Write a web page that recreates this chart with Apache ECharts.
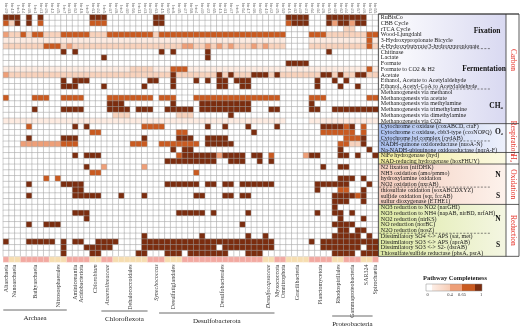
<!DOCTYPE html>
<html>
<head>
<meta charset="utf-8">
<script src="https://cdn.jsdelivr.net/npm/echarts@6/dist/echarts.min.js"></script>
<style>
  html, body { margin: 0; padding: 0; background: #fff; }
  #main { width: 520px; height: 328px; }
</style>
</head>
<body>
<div id="main"></div>
<script>
// genome bins along the top
var bins = ['bin29','bin19','bin3','bin14','bin38','bin1','bin41','bin26','bin12','bin45','bin7','bin33','bin52','bin18','bin9','bin61','bin24','bin5','bin37','bin48','bin2','bin30','bin56','bin11','bin43','bin20','bin63','bin15','bin50','bin8','bin35','bin27','bin58','bin4','bin40','bin22','bin65','bin13','bin31','bin47','bin6','bin54','bin17','bin36','bin60','bin10','bin42','bin25','bin59','bin16','bin32','bin49','bin21','bin64','bin34','bin28','bin53','bin39','bin62','bin44','bin23','bin57','bin46','bin51','bin55'];

var pathways = [
  'RuBisCo', 'CBB Cycle', 'rTCA Cycle', 'Wood-Ljungdahl', '3-Hydroxypropionate Bicycle', '4-Hydroxybutyrate/3-hydroxypropionate',
  'Chitinase', 'Lactate', 'Formate', 'Formate to CO2 & H2', 'Acetate', 'Ethanol, Acetate to Acetylaldehyde', 'Ethanol, Acetyl-CoA to Acetylaldehyde',
  'Methanogenesis via methanol', 'Methanogenesis via acetate', 'Methanogenesis via methylamine', 'Methanogenesis via trimethylamine', 'Methanogenesis via dimethylamine', 'Methanogenesis via CO2',
  'Cytochrome c oxidase (coxABCD, ctaF)', 'Cytochrome c oxidase, cbb3-type (ccoNOPQ)', 'Cytochrome bd complex (cydAB)', 'NADH-quinone oxidoreductase (nuoA-N)', 'Na-NADH-ubiquinone oxidoreductase (nqrA-F)',
  'NiFe hydrogenase (hyd)', 'NAD-reducing hydrogenase (hoxFHUY)',
  'N2 fixation (nifDHK)', 'NH3 oxidation (amo/pmmo)', 'hydroxylamine oxidation', 'NO2 oxidation (nxrAB)',
  'thiosulfate oxidation (soxABCDXYZ)', 'sulfide oxidation (sqr, fccAB)', 'sulfur dioxygenase (ETHE1)',
  'NO3 reduction to NO2 (narGHI)', 'NO3 reduction to NH4 (napAB, nirBD, nrfAH)', 'NO2 reduction (nirKS)', 'NO reduction (norBC)', 'N2O reduction (nosZ)',
  'Dissimilatory SO4 <-> APS (sat, met)', 'Dissimilatory SO3 <-> APS (aprAB)', 'Dissimilatory SO3 <-> S2- (dsrAB)', 'Thiosulfate/sulfide reductase (phsA, psrA)'
];

// completeness per pathway, one character per bin: . = 0, 1..5 = rising completeness
var fixationRows = [
  '555.5 .5... ..... 555.. ..... .55.. ..... ..... ..... ....5 555.. .5555 555..',
  '425.5 .4... ..... 444.. ..... .55.. ..... ..... ..... ....4 555.. .5355 355..',
  '..... ..... ..... ..... ..... ..... ..... ..... ..... ..... ..... ....2 2....',
  '32242 44222 44444 22244 44444 42444 44444 44444 44444 4444. ...44 42222 22244',
  '11111 11111 11111 11111 11111 11111 11111 11111 11111 1111. ...11 11111 11141',
  '22222 22444 23222 22222 22222 22222 23322 32323 22232 3222. ...22 22222 22242'
];
var fermentationRows = [
  '..... ..... 5.5.. ..... ..... ..5.5 ..... 5.... ..... ..... ..... .5... .....',
  '..... ..... ..... ..5.. ..... ..... ..... 5.... ..... ..... ..... ..... .....',
  '..... ..... ..... ..... ..... ..... ..... ..... ..... ....5 555.. ..... .....',
  '11111 11111 11111 11111 11222 21114 44111 11111 11111 11111 11111 11111 11141',
  '32222 22222 22222 22222 22222 22225 22222 22525 22255 52522 22222 55252 25522',
  '..... ..... 5.555 ..... ..... 55..5 ...5. 5.55. 555.. ..... ....5 ..5.5 .....',
  '..... ..... 555.. ..5.. ....5 ....5 ..... ..55. .55.. ..... ....5 ...5. .5...'
];
var ch4Rows = [
  '..... ..... ..... ..... ..... ..... ..... ..... ..... ..... ..... ..... .....',
  '4.... 444.. 4444. ...44 44444 4.444 ...44 44444 44444 444.. ...44 4.... ...44',
  '..... ..... ..... ...55 5.... ....5 ....5 55555 555.. ..... ...5. ..... .....',
  '..... 5.... 5555. ...55 55.55 5..55 555.5 55555 555.. .55.. ...55 ..555 55555',
  '..... ..... ..... ....2 22... ..... 222.. ....5 ..... ..... ..... ..... .....',
  '11111 11111 11111 11111 11111 11111 11111 11111 11111 1111. ...11 11111 11111'
];
var o2Rows = [
  '....4 ..... ..5.5 ..... ....4 444.. ..... 5..5. ..5.. ..5.. ..... 55554 5.4..',
  '..... ..... ..... 44... ..... ..... 44... ..... ...5. ..... ..... 44444 4.4..',
  '....5 ..... 555.. ..... ....5 ..... 555.. 5555. ..... ..... ..... ....4 445..',
  '...33 33333 444.. ..... ..444 ..444 4444. 55555 ..... ..... ..... ...44 225..',
  '..... ..... ..... ..... ..... ....5 .55.. ..... ..... ..... ..... ...5. ...5.'
];
var h2Rows = [
  '..... ..... ..5.5 55... ..... ..... 45555 55355 55.55 .4... ..355 ...55 .5..5',
  '..... ..... ..... ..... ..... ...55 55555 55..5 55..5 .5... ..... ..... .....'
];
var oxNRows = [
  '..... ..... ....5 ..3.. ....3 ..... ..... ..... ..... ..... ..... 5..55 .....',
  '..... ..... ..... 44... ..... ..... ...4. ..... ..... ..... ..... ..... .....',
  '..... ..4.4 ..... ..... ..... ..... ..... ..... ..... ..... ..... ...55 5.5..',
  '....5 ..... 5555. ..... ..... ...55 5555. 55.55 .5555 55... ....5 55555 ...5.'
];
var oxSRows = [
  '..... ..... ..55. ..... ..... ..... ..... ..... ..... ..... ....5 ...44 ..5..',
  '....5 ..... ..555 55... 5...5 ..... ...55 ...55 .55.. ..... ..... ..555 545..',
  '..... ..... ..... ..... ..... ..... ..... ..... ..... ..... ..... ..555 ..5..'
];
var redNRows = [
  '..... ..... ..... ..... ..... ..... ..... ..... ..... ..... ..... ..5.. .....',
  '..... ..... ..555 ..... ..... ..... 55555 .5... ..5.. ..... ....5 ..55. 5....',
  '..... ..... ....5 ..... ..... ..... ..... ..... ..... ..... ..... ...5. ..5..',
  '....5 ..555 ..... ..... ..... ..... ..... ..... .5... ..... ..... ..555 5....',
  '..... ..... ..... ..... ..... ..... ..... ..... ..... ..... ..... ...55 .55..'
];
var redSRows = [
  '..... ..... ..... ..... ....5 ..... ....5 ..... ..5.. 5.... ..... ..555 55.5.',
  '5...5 5555. 5.55. .5555 ....5 55555 55555 55555 55555 55... ...5. 55555 55555',
  '..... ..... 5...5 5555. ....5 55555 55555 55.55 55555 55... ..... 55555 55.55',
  '..... ..... 5.... 55... ...55 ...55 5.555 5555. ..555 ..... ..... ..555 5.555'
];
var levels = { '.': 0, '1': 0.2, '2': 0.35, '3': 0.55, '4': 0.8, '5': 1 };

// taxonomy of the bins (bottom)
var taxa = [
  { name: 'Altarchaeia', from: 0, to: 0 },
  { name: 'Nanoarchaeia', from: 1, to: 2 },
  { name: 'Bathyarchaeia', from: 3, to: 7 },
  { name: 'Nitrososphaerales', from: 8, to: 10 },
  { name: 'Aminicenantia\nAcidobacteriota', from: 11, to: 14 },
  { name: 'Chlorobium', from: 15, to: 16, italic: true },
  { name: 'Anaerolineaceae', from: 17, to: 18, italic: true },
  { name: 'Dehalococcoidales', from: 19, to: 24 },
  { name: 'Synechococcus', from: 25, to: 27, italic: true },
  { name: 'Desulfatiglandales', from: 28, to: 30 },
  { name: 'Desulfobacterales', from: 31, to: 44 },
  { name: 'Desulfocapsaceae', from: 45, to: 46, italic: true },
  { name: 'Myxococcota\nOmnitrophota', from: 47, to: 48 },
  { name: 'Gracilibacteria', from: 49, to: 52 },
  { name: 'Planctomycetota', from: 53, to: 56 },
  { name: 'Rhodospirillales', from: 57, to: 58 },
  { name: 'Gammaproteobacteria', from: 59, to: 61 },
  { name: 'SAR324', from: 62, to: 63 },
  { name: 'Spirochaetia', from: 64, to: 64 }
];
var clades = [
  { name: 'Archaea', from: 0, to: 10 },
  { name: 'Chloroflexota', from: 17, to: 24 },
  { name: 'Desulfobacterota', from: 27, to: 46 },
  { name: 'Proteobacteria', from: 57, to: 63 }
];

// pathway groups on the right
var sections = [
  { name: 'Carbon', from: 0, to: 18 },
  { name: 'Respiration', from: 19, to: 23 },
  { name: 'H\u2082', from: 24, to: 25 },
  { name: 'Oxidation', from: 26, to: 32 },
  { name: 'Reduction', from: 33, to: 41 }
];
var subgroups = [
  { name: 'Fixation', from: 0, to: 5 },
  { name: 'Fermentation', from: 6, to: 12 },
  { name: 'CH\u2084', from: 13, to: 18 },
  { name: 'O\u2082', from: 19, to: 21 },
  { name: '', from: 22, to: 23 },
  { name: 'N', from: 26, to: 29 },
  { name: 'S', from: 30, to: 32 },
  { name: 'N', from: 33, to: 37 },
  { name: 'S', from: 38, to: 41 }
];

var legendStops = ['0', '0.4', '0.65', '1'];

// ---------- layout ----------
var L = { left: 3.3, top: 14, cell: 5.77 };
var nC = bins.length, nR = pathways.length;
var gridW = L.cell * nC, gridH = L.cell * nR;
var panelX = L.left + gridW, panelR = 506, outerR = 519;
var sectionBg = {
  'Carbon': ['#ffffff', '#d9d9f1'],
  'Respiration': ['#a9bfef', '#eef1fb'],
  'H\u2082': ['#f2ec9c', '#fbf9e2'],
  'Oxidation': ['#f3cdbd', '#fdf2ec'],
  'Reduction': ['#dde9a4', '#f4f6e2']
};
var sectionLabelY = { 'Carbon': 60 };
var subLabelX = { 'Fixation': 487, 'Fermentation': 484, 'CH\u2084': 496, 'O\u2082': 499, 'N': 498, 'S': 498 };
var cladeLineY = { 'Archaea': 310, 'Chloroflexota': 311, 'Desulfobacterota': 313, 'Proteobacteria': 316 };

var rows = fixationRows.concat(fermentationRows, ch4Rows, o2Rows, h2Rows, oxNRows, oxSRows, redNRows, redSRows);
var heat = [];
rows.forEach(function (s, r) {
  s.replace(/ /g, '').split('').forEach(function (ch, c) {
    heat.push([c, r, levels[ch]]);
  });
});

var stripData = [];
taxa.forEach(function (t, i) {
  for (var c = t.from; c <= t.to; c++) stripData.push([c, 0, i % 2]);
});

function rowY(r) { return L.top + r * L.cell; }
function colX(c) { return L.left + c * L.cell; }

var g = [];
// panel backgrounds
sections.forEach(function (s) {
  var bg = sectionBg[s.name];
  g.push({
    type: 'rect', z: -10,
    shape: { x: panelX, y: rowY(s.from), width: panelR - panelX, height: (s.to - s.from + 1) * L.cell },
    style: { fill: new echarts.graphic.LinearGradient(0, 0, 1, 0, [{ offset: 0, color: bg[0] }, { offset: 1, color: bg[1] }]) }
  });
  // red category name
  var cy = sectionLabelY[s.name] || (rowY(s.from) + rowY(s.to + 1)) / 2;
  g.push({
    type: 'text', z: 5, x: (panelR + outerR) / 2, y: cy, rotation: -Math.PI / 2,
    style: { text: s.name, fill: '#e5332a', fontSize: 7.5, fontFamily: 'Liberation Serif', align: 'center', verticalAlign: 'middle' }
  });
  g.push({
    type: 'line', z: 5,
    shape: { x1: panelX, y1: rowY(s.from), x2: outerR, y2: rowY(s.from) },
    style: { stroke: '#333', lineWidth: 0.8 }
  });
});
g.push({ type: 'rect', z: 5, shape: { x: panelX, y: L.top, width: outerR - panelX, height: gridH }, style: { fill: 'none', stroke: '#333', lineWidth: 0.8 } });
g.push({ type: 'line', z: 5, shape: { x1: panelR, y1: L.top, x2: panelR, y2: L.top + gridH }, style: { stroke: '#333', lineWidth: 0.8 } });

// subgroup labels and dashed separators
subgroups.forEach(function (sg) {
  if (sg.name) {
    g.push({
      type: 'text', z: 5, x: subLabelX[sg.name], y: (rowY(sg.from) + rowY(sg.to + 1)) / 2,
      style: { text: sg.name, fill: '#111', fontSize: 7.5, fontWeight: 'bold', fontFamily: 'Liberation Serif', align: 'center', verticalAlign: 'middle' }
    });
  }
  var isSectionStart = sections.some(function (s) { return s.from === sg.from; });
  if (!isSectionStart) {
    g.push({
      type: 'line', z: 5,
      shape: { x1: panelX + 1, y1: rowY(sg.from), x2: 490, y2: rowY(sg.from) },
      style: { stroke: '#333', lineWidth: 0.6, lineDash: [2, 1.5] }
    });
  }
});

// taxon labels
taxa.forEach(function (t) {
  g.push({
    type: 'text', x: colX((t.from + t.to + 1) / 2), y: 264.5, rotation: Math.PI / 2,
    style: { text: t.name, fill: '#3a3a3a', fontSize: 6, lineHeight: 6, fontStyle: t.italic ? 'italic' : 'normal', fontFamily: 'Liberation Serif', align: 'right', verticalAlign: 'middle' }
  });
});
// clades
clades.forEach(function (c) {
  var y = cladeLineY[c.name];
  g.push({ type: 'line', shape: { x1: colX(c.from), y1: y, x2: colX(c.to + 1), y2: y }, style: { stroke: '#444', lineWidth: 0.8 } });
  g.push({
    type: 'text', x: (colX(c.from) + colX(c.to + 1)) / 2, y: y + 8,
    style: { text: c.name, fill: '#222', fontSize: 7, fontFamily: 'Liberation Serif', align: 'center', verticalAlign: 'middle' }
  });
});

// legend
var lg = { x: 426, y: 284, w: 56, h: 7 };
g.push({ type: 'text', x: 455, y: 278, style: { text: 'Pathway Completeness', fill: '#222', fontSize: 6.5, fontWeight: 'bold', fontFamily: 'Liberation Serif', align: 'center', verticalAlign: 'middle' } });
var segs = [
  [426, 432, '#ffffff'],
  [432, 450, new echarts.graphic.LinearGradient(0, 0, 1, 0, [{ offset: 0, color: '#fdeee6' }, { offset: 1, color: '#f7cdb6' }])],
  [450, 462, '#ee9f78'],
  [462, 475, '#c95a20'],
  [475, 482, '#7b2d0f']
];
segs.forEach(function (s) {
  g.push({ type: 'rect', shape: { x: s[0], y: lg.y, width: s[1] - s[0], height: lg.h }, style: { fill: s[2] } });
});
g.push({ type: 'rect', shape: { x: lg.x, y: lg.y, width: lg.w, height: lg.h }, style: { fill: 'none', stroke: '#888', lineWidth: 0.5 } });
var stopX = [427.5, 450, 462, 481];
legendStops.forEach(function (t, i) {
  g.push({ type: 'text', x: stopX[i], y: lg.y + lg.h + 4, style: { text: t, fill: '#333', fontSize: 4.5, fontFamily: 'Liberation Serif', align: 'center', verticalAlign: 'middle' } });
});

var chart = echarts.init(document.getElementById('main'));
chart.setOption({
  animation: false,
  backgroundColor: '#fff',
  grid: [
    { left: L.left, top: L.top, width: gridW, height: gridH },
    { left: L.left, top: L.top + gridH + 0.6, width: gridW, height: 5.2 }
  ],
  xAxis: [
    {
      type: 'category', data: bins, position: 'top', gridIndex: 0,
      axisLine: { show: false }, axisTick: { show: false }, splitLine: { show: false },
      axisLabel: { rotate: 90, fontSize: 4.2, color: '#777', margin: 1.5, interval: 0, fontFamily: 'Liberation Sans' }
    },
    { type: 'category', data: bins, gridIndex: 1, show: false }
  ],
  yAxis: [
    {
      type: 'category', data: pathways, inverse: true, position: 'right', gridIndex: 0,
      axisLine: { show: false }, axisTick: { show: false }, splitLine: { show: false },
      axisLabel: { fontSize: 6, color: '#1a1a1a', margin: 2.5, interval: 0, fontFamily: 'Liberation Serif' }
    },
    { type: 'category', data: ['taxon'], gridIndex: 1, show: false }
  ],
  visualMap: [
    {
      type: 'piecewise', show: false, seriesIndex: 0, dimension: 2,
      pieces: [
        { value: 0, color: '#ffffff' },
        { value: 0.2, color: '#fdebe1' },
        { value: 0.35, color: '#f8d2bc' },
        { value: 0.55, color: '#ee9f78' },
        { value: 0.8, color: '#c95a20' },
        { value: 1, color: '#7b2d0f' }
      ]
    },
    {
      type: 'piecewise', show: false, seriesIndex: 1, dimension: 2,
      pieces: [{ value: 0, color: '#f2a9a1' }, { value: 1, color: '#f6ddb0' }]
    }
  ],
  series: [
    {
      type: 'heatmap', data: heat, xAxisIndex: 0, yAxisIndex: 0, progressive: 0,
      itemStyle: { borderColor: '#a3a3a3', borderWidth: 0.5 },
      emphasis: { disabled: true }
    },
    {
      type: 'heatmap', data: stripData, xAxisIndex: 1, yAxisIndex: 1, progressive: 0,
      itemStyle: { borderColor: '#ffffff', borderWidth: 0.3 },
      emphasis: { disabled: true }
    }
  ],
  graphic: { elements: g }
});
</script>
</body>
</html>
